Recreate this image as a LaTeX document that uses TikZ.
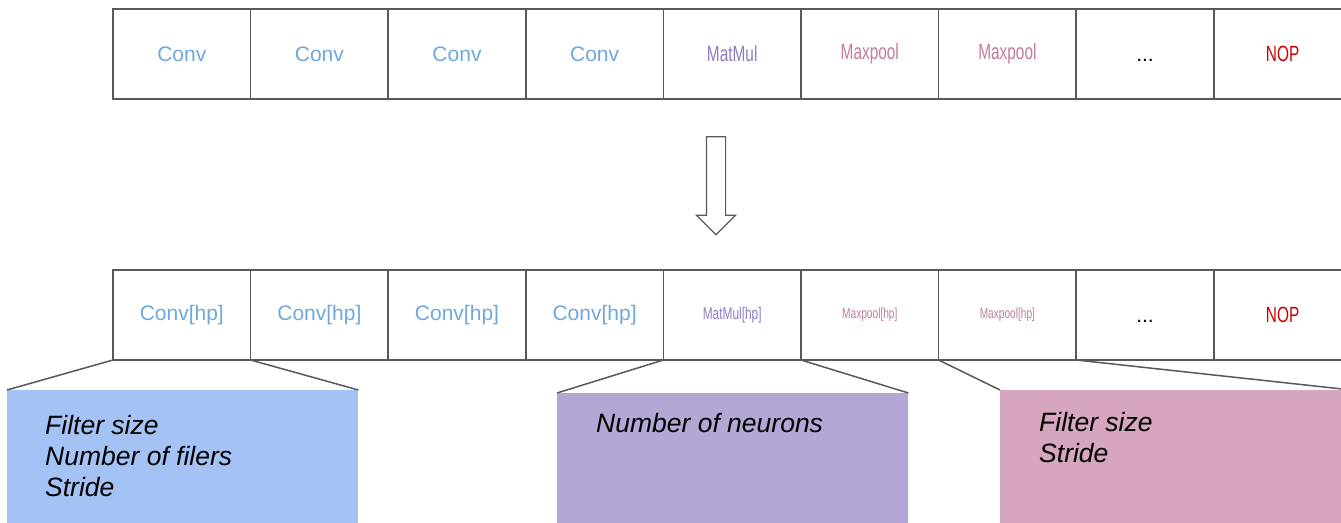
\documentclass[tikz,border=0pt]{standalone}
\usepackage{fontspec}
\setmainfont{Liberation Sans}
\newfontfamily\narrowsans[FakeStretch=0.7]{Liberation Sans}
\usetikzlibrary{shapes.arrows, positioning}

\definecolor{linegray}{HTML}{595959}
\definecolor{convblue}{HTML}{6FA8DC}
\definecolor{matmulpurple}{HTML}{8E7CC3}
\definecolor{poolpink}{HTML}{C27BA0}
\definecolor{nopred}{HTML}{CC0000}
\definecolor{convbox}{HTML}{A4C2F4}
\definecolor{matmulbox}{HTML}{B4A7D6}
\definecolor{poolbox}{HTML}{D5A6BD}

% op labels
\newcommand{\opconv}[1]{{\fontsize{21}{25}\selectfont\color{convblue}#1}}
\newcommand{\opmatmul}[2]{{\narrowsans\fontsize{#1}{#1}\selectfont\color{matmulpurple}#2}}
\newcommand{\oppool}[2]{{\narrowsans\fontsize{#1}{#1}\selectfont\color{poolpink}#2}}
\newcommand{\opnop}{{\narrowsans\fontsize{22}{25}\selectfont\color{nopred}NOP}}
\newcommand{\opdots}{{\fontsize{21}{25}\selectfont\vphantom{C}...}}

\begin{document}
\begin{tikzpicture}[x=1pt, y=-1pt,
    cell/.style={draw=linegray, line width=1.7pt, minimum width=137.6pt, minimum height=90pt, inner sep=0pt, outer sep=0pt},
    infobox/.style={anchor=north west, minimum width=351pt, minimum height=150pt, inner sep=0pt},
    infotext/.style={anchor=north west, align=left, inner sep=0pt, font=\fontsize{26.5}{31}\selectfont\itshape},
    zoomline/.style={draw=linegray, line width=1.5pt}]
    \fill[white] (0,0) rectangle (1341,522);
    \clip (0,0) rectangle (1341,522);

    % sequence of ops
    \foreach \i/\lab in {1/\opconv{Conv}, 2/\opconv{Conv}, 3/\opconv{Conv}, 4/\opconv{Conv},
        5/\opmatmul{22}{MatMul}, 6/\oppool{22}{Maxpool}, 7/\oppool{22}{Maxpool}, 8/\opdots, 9/\opnop}
        \node[cell] (top\i) at ({113+(\i-0.5)*137.6}, 54) {\lab};

    \node[single arrow, draw=linegray, line width=1.2pt, shape border rotate=270, single arrow tip angle=90,
        minimum height=98pt, minimum width=38pt, single arrow head extend=10pt, inner sep=9pt] (down) at (716,181) {};

    % same ops with their hyperparameters
    \foreach \i/\lab in {1/\opconv{Conv[hp]}, 2/\opconv{Conv[hp]}, 3/\opconv{Conv[hp]}, 4/\opconv{Conv[hp]},
        5/\opmatmul{17}{MatMul[hp]}, 6/\oppool{14.5}{Maxpool[hp]}, 7/\oppool{14.5}{Maxpool[hp]}, 8/\opdots, 9/\opnop}
        \node[cell] (bot\i) at ({113+(\i-0.5)*137.6}, 315) {\lab};

    \node[infobox, fill=convbox] (convinfo) at (7,390) {};
    \node[infobox, fill=matmulbox] (matmulinfo) at (557,393) {};
    \node[infobox, fill=poolbox] (poolinfo) at (1000,390) {};

    \node[infotext] (convparams) at (45,415) {Filter size\\Number of filers\\Stride};
    \node[infotext] (matmulparams) at (596,413) {Number of neurons};
    \node[infotext] (poolparams) at (1039,412) {Filter size\\Stride};

    \draw[zoomline] (bot1.south west) -- (convinfo.north west);
    \draw[zoomline] (bot2.south west) -- (convinfo.north east);
    \draw[zoomline] (bot5.south west) -- (matmulinfo.north west);
    \draw[zoomline] (bot6.south west) -- (matmulinfo.north east);
    \draw[zoomline] (bot7.south west) -- (poolinfo.north west);
    \draw[zoomline] (bot8.south west) -- (poolinfo.north east);
\end{tikzpicture}
\end{document}
